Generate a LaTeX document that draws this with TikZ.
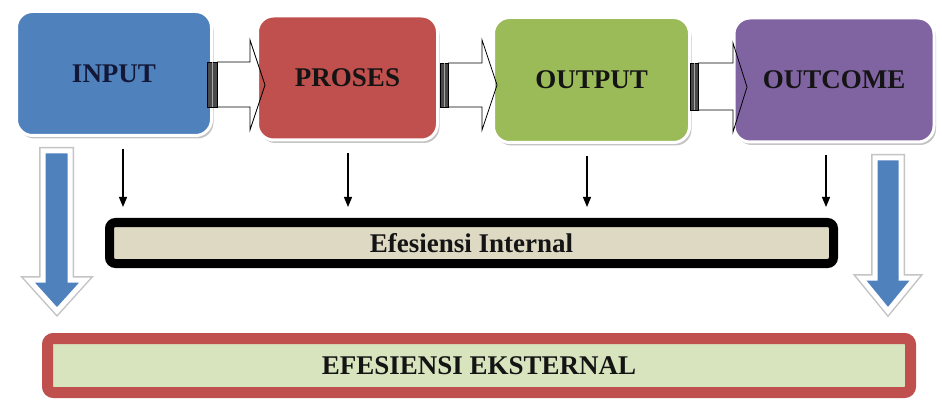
\documentclass[tikz,border=0pt]{standalone}
\usepackage{fontspec}
\setmainfont{Liberation Serif}
\usetikzlibrary{arrows.meta,calc,shadows}
\definecolor{cblue}{HTML}{4F81BD}
\definecolor{cred}{HTML}{C0504D}
\definecolor{cgreen}{HTML}{9BBB59}
\definecolor{cpurple}{HTML}{8064A2}
\definecolor{cbeige}{HTML}{DDD9C3}
\definecolor{clgreen}{HTML}{D7E4BD}
\definecolor{cshadow}{HTML}{C4C4C4}
\definecolor{cnavy}{HTML}{141838}
\definecolor{ctext}{HTML}{141414}
\definecolor{cbar}{HTML}{4A4A4A}
\begin{document}
\begin{tikzpicture}[x=1pt,y=-1pt,
  lbl/.style={font=\fontsize{27}{30}\selectfont\bfseries, text=ctext},
  box/.style={lbl, rounded corners=16pt, draw=white, line width=3pt, inner sep=0pt,
    drop shadow={shadow xshift=2pt, shadow yshift=-3pt, fill=cshadow, opacity=1}},
  effbox/.style={lbl, inner sep=0pt, rounded corners=6pt,
    drop shadow={shadow xshift=2pt, shadow yshift=-4pt, fill=cshadow, opacity=1}},
  thinarr/.style={-{Triangle[length=10pt,width=8pt]}, line width=1.2pt, black,
    shorten <=12pt, shorten >=11pt},
  blk/.style={draw=black, line width=0.8pt, line join=miter},
  blkbar/.style={fill=cbar, draw=black, line width=0.6pt},
  bigarr/.style={fill=cblue, draw=white, line width=5pt, line join=miter,
    preaction={draw=cshadow, line width=8pt, line join=miter}}]
\useasboundingbox (0,0) rectangle (942,406);
\fill[white] (0,0) rectangle (942,406);

% big blue arrows
\draw[bigarr] (43,151) -- (70,151) -- (70,280) -- (85,280) -- (57,311) -- (29,280) -- (43,280) -- cycle;
\draw[bigarr] (875,158) -- (901,158) -- (901,278) -- (915,278) -- (888,311) -- (861,278) -- (875,278) -- cycle;

% main boxes
\node[box, fill=cblue, text=cnavy, minimum width=195pt, minimum height=124pt] (in) at (114,73.5) {INPUT};
\node[box, fill=cred, minimum width=180pt, minimum height=124pt] (pr) at (347.5,78) {PROSES};
\node[box, fill=cgreen, minimum width=196pt, minimum height=125pt] (ou) at (591.5,80) {OUTPUT};
\node[box, fill=cpurple, minimum width=200pt, minimum height=124pt] (oc) at (834,80) {OUTCOME};

% block arrows between boxes
\draw[blk] (217,62) -- (250,62) -- (250,40) -- (265,85) -- (250,130) -- (250,107) -- (217,107);
\filldraw[blkbar] (207,62) rectangle (217,107);
\draw[gray!70, line width=1pt] (212,62) -- (212,107);
\draw[blk] (448,63) -- (482,63) -- (482,40) -- (497,85) -- (482,130) -- (482,107) -- (448,107);
\filldraw[blkbar] (440,63) rectangle (448,107);
\draw[gray!70, line width=1pt] (444,63) -- (444,107);
\draw[blk] (698,63) -- (733,63) -- (733,43) -- (747,87) -- (733,132) -- (733,110) -- (698,110);
\filldraw[blkbar] (690,63) rectangle (698,110);
\draw[gray!70, line width=1pt] (694,63) -- (694,110);

% efficiency boxes
\node[effbox, draw=black, line width=9pt, fill=cbeige, minimum width=724pt, minimum height=41pt] (int) at (471.5,243) {Efesiensi Internal};
\node[effbox, draw=cred, line width=11pt, fill=clgreen, minimum width=863pt, minimum height=54pt] (ext) at (479,365.5) {EFESIENSI EKSTERNAL};

% thin arrows
\coordinate (a1) at ($(in.south)+(9,0)$);
\coordinate (a2) at ($(pr.south)+(0.5,0)$);
\coordinate (a3) at ($(ou.south)+(-4.5,0)$);
\coordinate (a4) at ($(oc.south)+(-8,0)$);
\draw[thinarr] (a1) -- (a1 |- int.north);
\draw[thinarr] (a2) -- (a2 |- int.north);
\draw[thinarr] (a3) -- (a3 |- int.north);
\draw[thinarr] (a4) -- (a4 |- int.north);
\end{tikzpicture}
\end{document}
